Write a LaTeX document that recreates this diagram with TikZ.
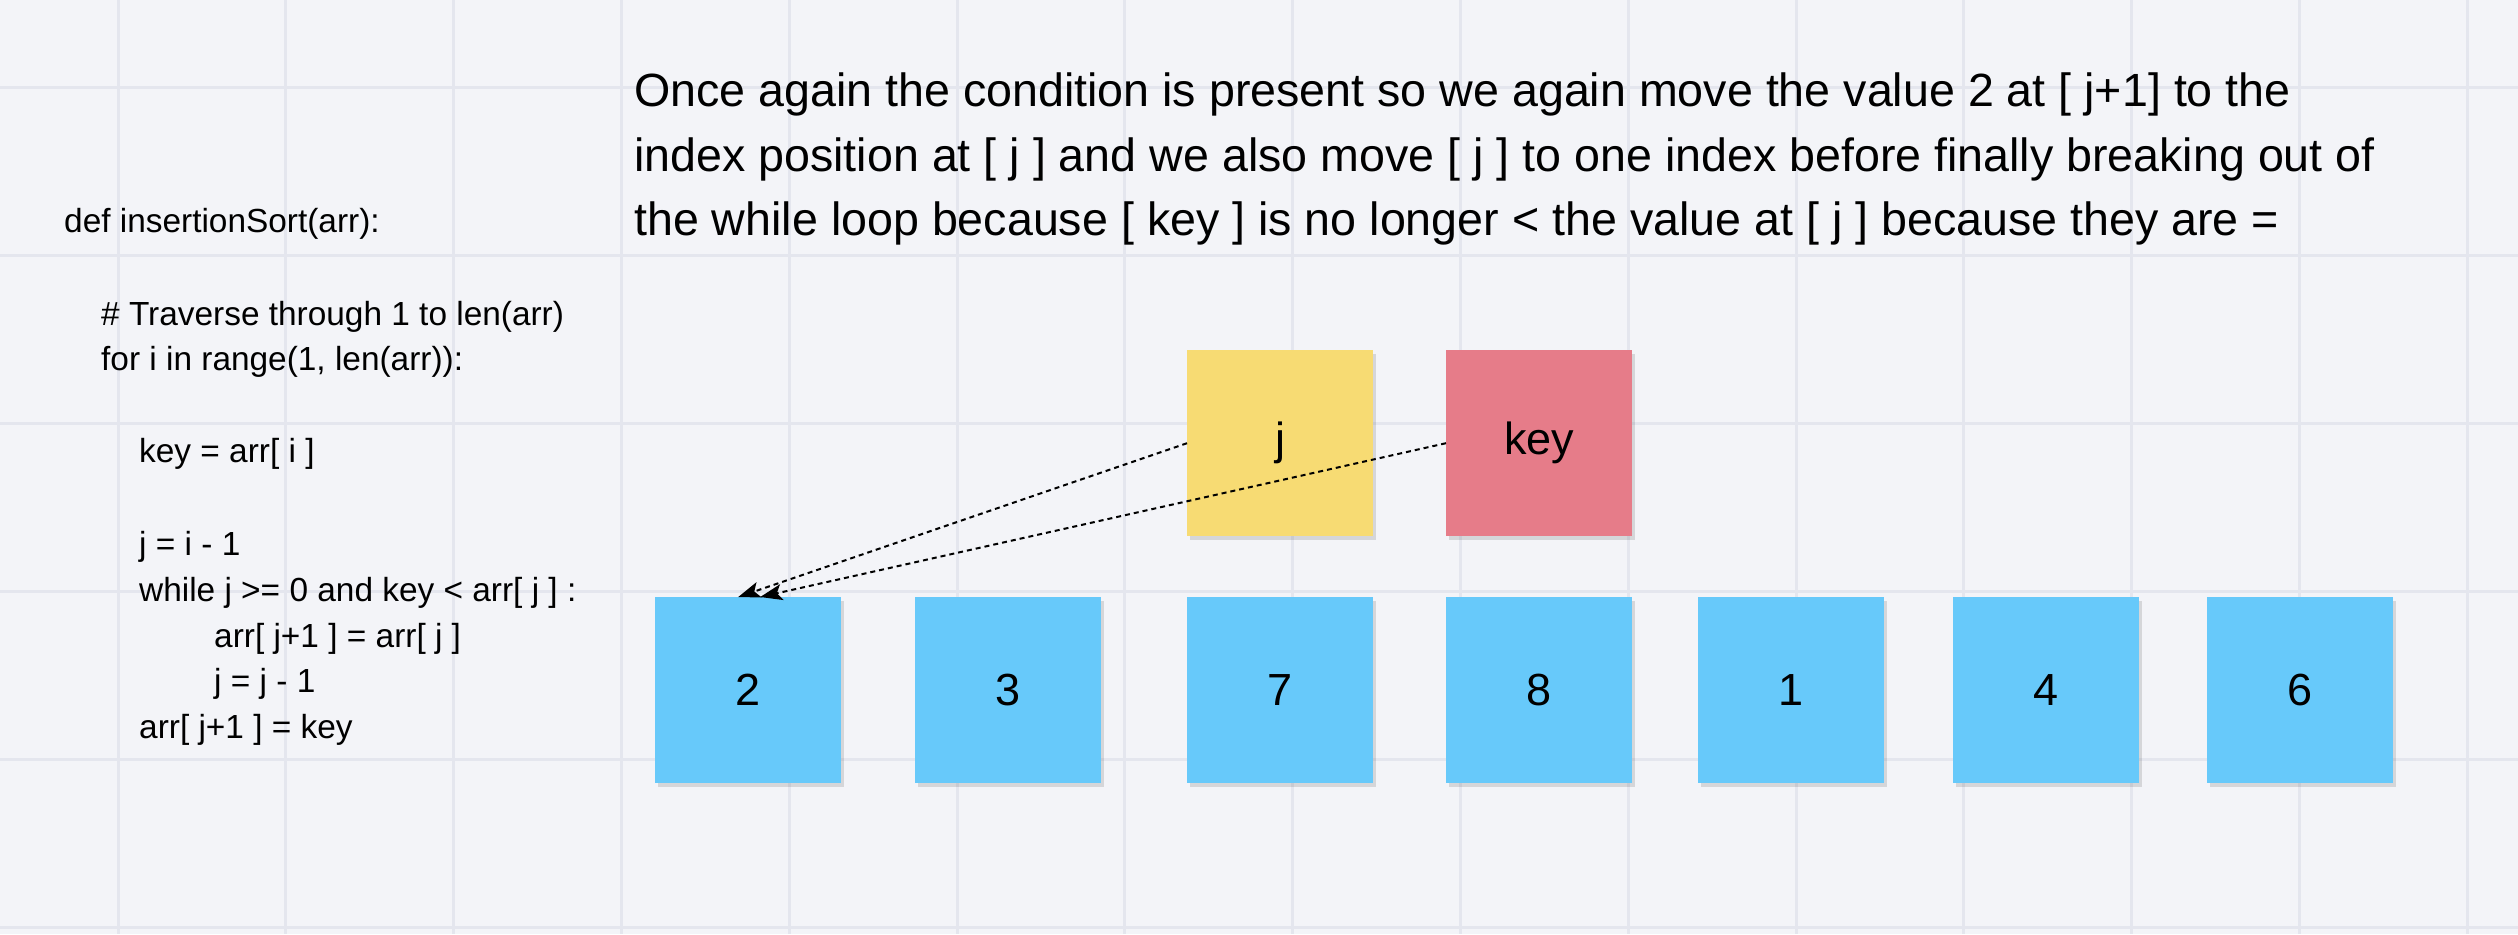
\documentclass[tikz,border=0pt]{standalone}
\usepackage{fontspec}
\setmainfont{Liberation Sans}
\usetikzlibrary{arrows.meta,shadows,calc}
\definecolor{bgc}{RGB}{243,244,248}
\definecolor{gridc}{RGB}{228,230,238}
\definecolor{cellblue}{RGB}{103,201,250}
\definecolor{cellyellow}{RGB}{247,219,115}
\definecolor{cellpink}{RGB}{230,124,137}
\tikzset{
  cell/.style={minimum width=186pt, minimum height=186pt, inner sep=0pt, anchor=north west,
    font=\fontsize{45}{54}\selectfont, text=black,
    drop shadow={shadow xshift=3pt, shadow yshift=-4pt, opacity=0.12, fill=black}},
  bluecell/.style={cell, fill=cellblue},
  codeline/.style={anchor=base west, inner sep=0pt, font=\fontsize{33.4}{40}\selectfont},
  paraline/.style={anchor=base west, inner sep=0pt, font=\fontsize{46.6}{56}\selectfont},
  pointer/.style={draw=black, line width=2pt, dash pattern=on 5pt off 4pt,
    -{Stealth[length=22pt, width=16pt, inset=5pt]}}
}
\begin{document}
\begin{tikzpicture}[x=1pt, y=-1pt]
\useasboundingbox (0,0) rectangle (2518,934);
\fill[bgc] (0,0) rectangle (2518,934);
% grid
\foreach \k in {0,...,14} {
  \draw[gridc, line width=3pt] ({118+167.8*\k},0) -- ({118+167.8*\k},934);
}
\foreach \k in {0,...,5} {
  \draw[gridc, line width=3pt] (0,{87+168*\k}) -- (2518,{87+168*\k});
}
% paragraph
\node[paraline] (p1) at (634,106) {Once again the condition is present so we again move the value 2 at [ j+1] to the};
\node[paraline] (p2) at (634,171) {index position at [ j ] and we also move [ j ] to one index before finally breaking out of};
\node[paraline] (p3) at (634,235) {the while loop because [ key ] is no longer < the value at [ j ] because they are =};
% code
\node[codeline] (c1) at (64,232) {def insertionSort(arr):};
\node[codeline] (c2) at (101,325) {\# Traverse through 1 to len(arr)};
\node[codeline] (c3) at (101,370) {for i in range(1, len(arr)):};
\node[codeline] (c4) at (139,462) {key = arr[ i ]};
\node[codeline] (c5) at (139,555) {j = i - 1};
\node[codeline] (c6) at (139,601) {while j >= 0 and key < arr[ j ] :};
\node[codeline] (c7) at (214,647) {arr[ j+1 ] = arr[ j ]};
\node[codeline] (c8) at (214,692) {j = j - 1};
\node[codeline] (c9) at (139,738) {arr[ j+1 ] = key};
% array cells
\node[bluecell] (b2) at (655,597) {2};
\node[bluecell] (b3) at (915,597) {3};
\node[bluecell] (b7) at (1187,597) {7};
\node[bluecell] (b8) at (1446,597) {8};
\node[bluecell] (b1) at (1698,597) {1};
\node[bluecell] (b4) at (1953,597) {4};
\node[bluecell] (b6) at (2207,597) {6};
% pointers
\node[cell, fill=cellyellow] (j) at (1187,350) {j};
\node[cell, fill=cellpink] (key) at (1446,350) {key};
\draw[pointer] (j.west) -- ([xshift=-10pt]b2.north);
\draw[pointer] (key.west) -- ([xshift=12pt]b2.north);
\end{tikzpicture}
\end{document}
